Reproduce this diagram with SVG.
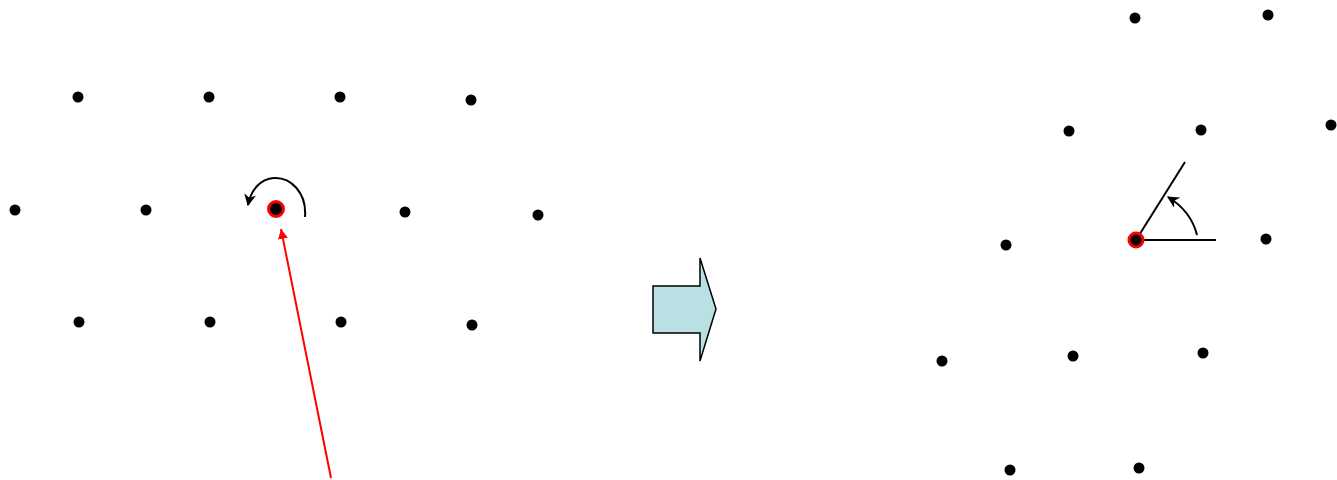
<svg xmlns="http://www.w3.org/2000/svg" width="1337" height="480" viewBox="0 0 1337 480">
<defs>
<style>
.d{fill:#000}
.c{fill:#000;stroke:#f00;stroke-width:3}
.k{fill:none;stroke:#000;stroke-width:2}
</style>
<marker id="ah" viewBox="0 0 10 10" refX="9" refY="5" markerWidth="12" markerHeight="12" markerUnits="userSpaceOnUse" orient="auto"><path d="M0,0 L10,5 L0,10 L3,5 Z" fill="#000"/></marker>
<marker id="ar" viewBox="0 0 10 10" refX="10" refY="5" markerWidth="10" markerHeight="12" markerUnits="userSpaceOnUse" orient="auto"><path d="M0,0 L10,5 L0,10 Z" fill="#f00"/></marker>
</defs>
<rect width="1337" height="480" fill="#fff"/>
<g id="left-lattice">
<circle class="d" cx="78" cy="97" r="5.5"/><circle class="d" cx="209" cy="97" r="5.5"/><circle class="d" cx="340" cy="97" r="5.5"/><circle class="d" cx="471" cy="100" r="5.5"/>
<circle class="d" cx="15" cy="210" r="5.5"/><circle class="d" cx="146" cy="210" r="5.5"/><circle class="d" cx="405" cy="212" r="5.5"/><circle class="d" cx="538" cy="215" r="5.5"/>
<circle class="d" cx="79" cy="322" r="5.5"/><circle class="d" cx="210" cy="322" r="5.5"/><circle class="d" cx="341" cy="322" r="5.5"/><circle class="d" cx="472" cy="325" r="5.5"/>
</g>
<g id="left-center"><circle class="c" cx="276" cy="209" r="7.5"/></g>
<g id="right-lattice">
<circle class="d" cx="1135" cy="18" r="5.5"/><circle class="d" cx="1268" cy="15" r="5.5"/>
<circle class="d" cx="1069" cy="131" r="5.5"/><circle class="d" cx="1201" cy="130" r="5.5"/><circle class="d" cx="1331" cy="125" r="5.5"/>
<circle class="d" cx="1006" cy="245" r="5.5"/><circle class="d" cx="1266" cy="239" r="5.5"/>
<circle class="d" cx="942" cy="361" r="5.5"/><circle class="d" cx="1073" cy="356" r="5.5"/><circle class="d" cx="1203" cy="353" r="5.5"/>
<circle class="d" cx="1010" cy="470" r="5.5"/><circle class="d" cx="1139" cy="468" r="5.5"/>
</g>
<g id="block-arrow"><polygon points="653,286 700,286 700,258 716,309 700,361 700,333 653,333" fill="#b9e0e3" stroke="#000" stroke-width="1.5"/></g>
<g id="connectors">
<path class="k" d="M305,217 C307,192 290,177 274,178 C260,179 251,190 248,205" marker-end="url(#ah)"/>
<line x1="331" y1="478" x2="281" y2="229" stroke="#f00" stroke-width="2" marker-end="url(#ar)"/>
<line x1="1136" y1="240" x2="1216" y2="240" stroke="#000" stroke-width="2"/>
<line x1="1136" y1="240" x2="1185" y2="162" stroke="#000" stroke-width="2"/>
<path class="k" d="M1197,235 Q1191,211 1168,197" marker-end="url(#ah)"/>
</g>
<g id="right-center"><circle class="c" cx="1136" cy="240" r="7"/></g>
</svg>
